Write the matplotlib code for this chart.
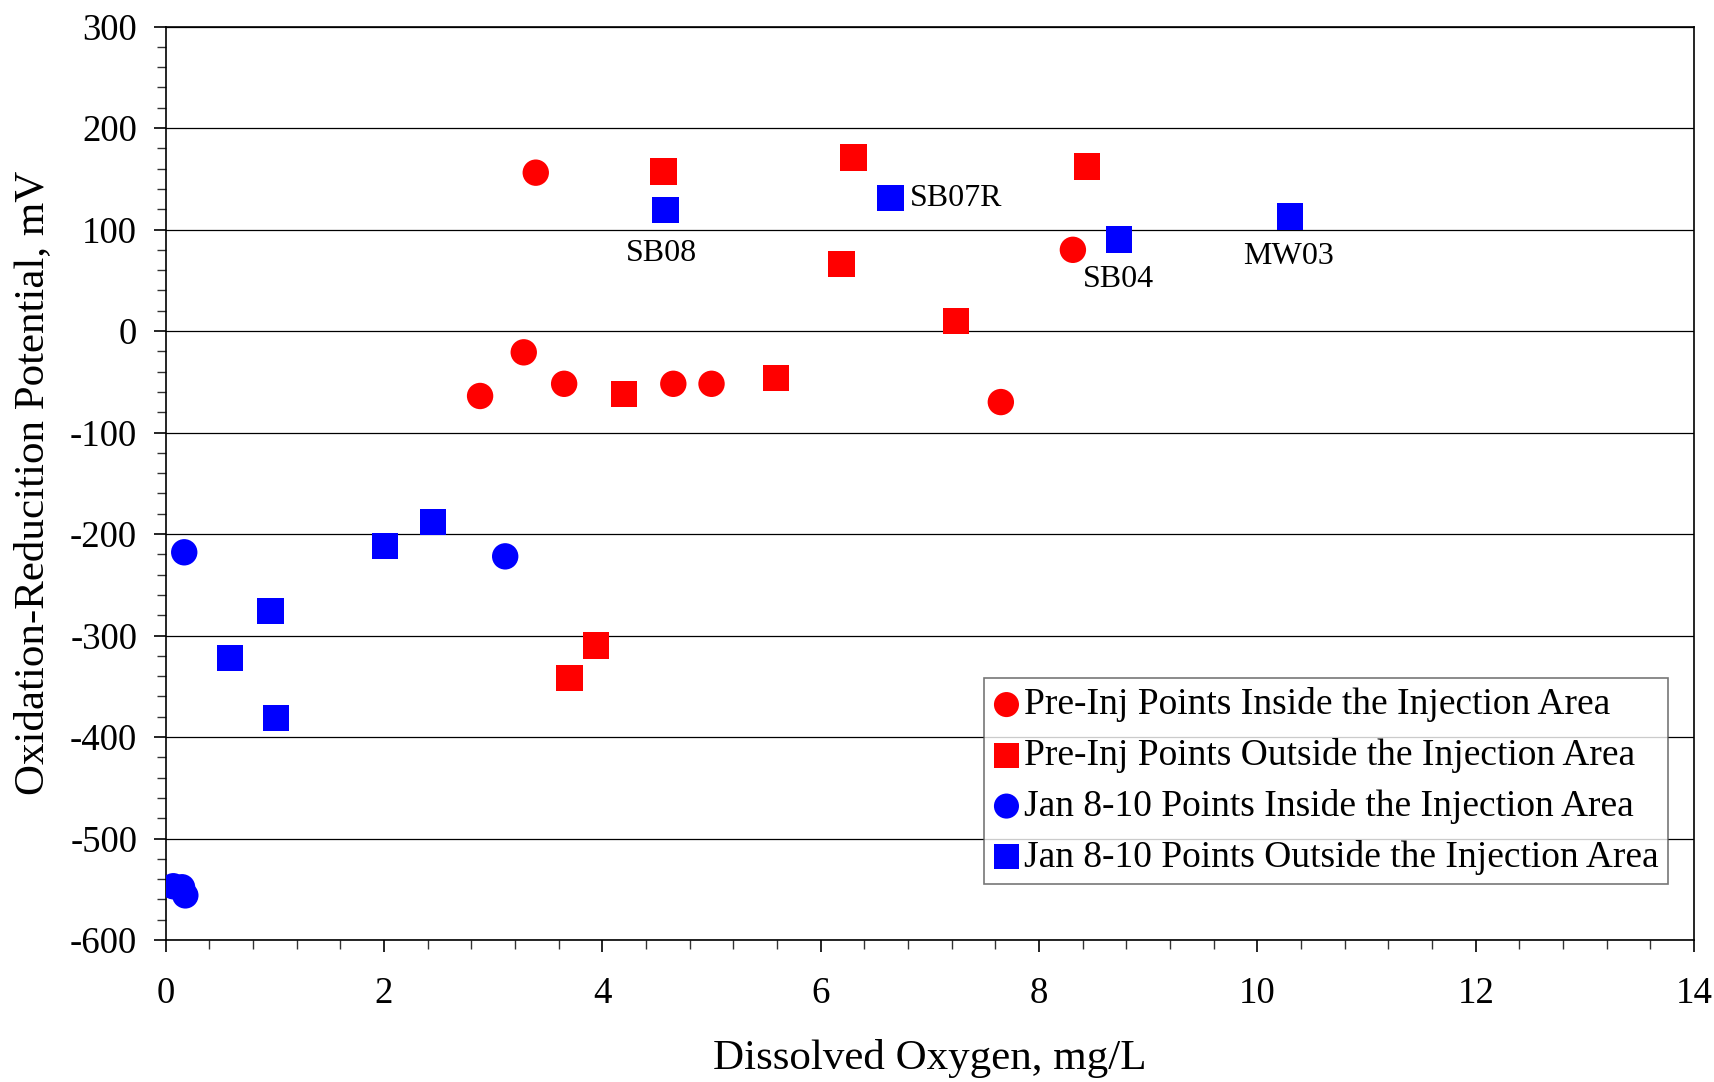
import matplotlib.pyplot as plt
from matplotlib.ticker import MultipleLocator

plt.rcParams['font.family'] = ['Liberation Serif', 'DejaVu Serif']
plt.rcParams['axes.unicode_minus'] = False

# Pre-injection points inside the injection area (red circles)
pre_in_do = [3.39, 2.88, 3.28, 3.65, 4.65, 5.00, 7.65, 8.31]
pre_in_orp = [156, -64, -21, -52, -52, -52, -70, 80]

# Pre-injection points outside the injection area (red squares)
pre_out_do = [4.56, 6.30, 8.44, 6.19, 7.24, 5.59, 4.20, 3.94, 3.70]
pre_out_orp = [157, 171, 162, 66, 10, -46, -62, -310, -342]

# Jan 8-10 points inside the injection area (blue circles)
jan_in_do = [0.17, 3.11, 0.07, 0.15, 0.18]
jan_in_orp = [-218, -222, -547, -548, -556]

# Jan 8-10 points outside the injection area (blue squares)
jan_out_do = [4.58, 6.64, 8.73, 10.30, 2.01, 2.45, 0.96, 0.59, 1.01]
jan_out_orp = [119, 131, 90, 113, -212, -188, -276, -322, -381]

# well labels
well_names = ['SB08', 'SB07R', 'SB04', 'MW03']
well_do = [4.58, 6.64, 8.73, 10.30]
well_orp = [119, 131, 90, 113]
well_offsets = [(-3, -31), (14, 0), (0, -29), (-1, -29)]
well_ha = ['center', 'left', 'center', 'center']

fig = plt.figure(figsize=(17.15, 10.82), dpi=100)
ax = fig.add_axes([0.0966, 0.1312, 0.8912, 0.8443])

ms = 19 ** 2
ax.scatter(pre_in_do, pre_in_orp, s=ms, marker='o', color='#ff0000', edgecolors='none',
           label='Pre-Inj Points Inside the Injection Area', zorder=3)
ax.scatter(pre_out_do, pre_out_orp, s=ms, marker='s', color='#ff0000', edgecolors='none',
           label='Pre-Inj Points Outside the Injection Area', zorder=3)
ax.scatter(jan_in_do, jan_in_orp, s=ms, marker='o', color='#0000ff', edgecolors='none',
           label='Jan 8-10 Points Inside the Injection Area', zorder=3)
ax.scatter(jan_out_do, jan_out_orp, s=ms, marker='s', color='#0000ff', edgecolors='none',
           label='Jan 8-10 Points Outside the Injection Area', zorder=3)

for name, x, y, off, ha in zip(well_names, well_do, well_orp, well_offsets, well_ha):
    ax.annotate(name, xy=(x, y), xytext=off, textcoords='offset points',
                ha=ha, va='center', fontsize=23)

ax.set_xlim(0, 14)
ax.set_ylim(-600, 300)
ax.xaxis.set_major_locator(MultipleLocator(2))
ax.xaxis.set_minor_locator(MultipleLocator(0.4))
ax.yaxis.set_major_locator(MultipleLocator(100))
ax.yaxis.set_minor_locator(MultipleLocator(20))

ax.grid(axis='y', which='major', color='black', linewidth=0.9, zorder=1)
ax.set_axisbelow(True)
for sp in ax.spines.values():
    sp.set_color('black')
    sp.set_linewidth(1.2)

ax.tick_params(axis='both', which='major', direction='out', length=8.5, width=1.2,
               labelsize=26.5, color='black')
ax.tick_params(axis='both', which='minor', direction='out', length=6.5, width=1.0, color='#333333')
ax.tick_params(axis='x', which='major', pad=18)
ax.tick_params(axis='y', which='major', pad=12)

ax.set_xlabel('Dissolved Oxygen, mg/L', fontsize=31, labelpad=20)
ax.set_ylabel('Oxidation-Reducition Potential, mV', fontsize=31)
ax.yaxis.set_label_coords(-0.074, 0.5)

leg = ax.legend(loc='lower right', bbox_to_anchor=(0.983, 0.0613), borderaxespad=0,
                fontsize=27, frameon=True, fancybox=False, edgecolor='#555555',
                handlelength=0.7, handletextpad=0.12, labelspacing=0.42,
                borderpad=0.25, markerscale=0.95, scatterpoints=1)
leg.get_frame().set_linewidth(1.2)

fig.savefig('out.png', dpi=100)
